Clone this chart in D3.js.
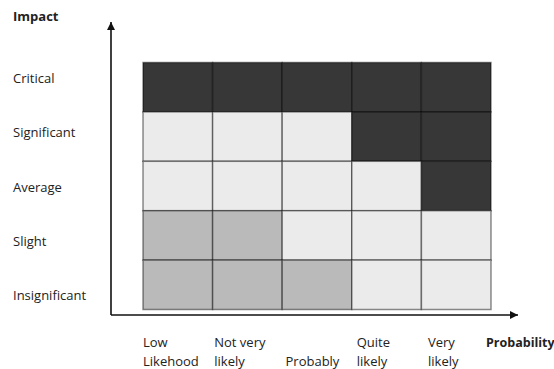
<!DOCTYPE html>
<html>
<head>
<meta charset="utf-8">
<script src="https://cdn.jsdelivr.net/npm/d3@7"></script>
<style>
  html, body { margin: 0; padding: 0; background: #fff; }
  svg { display: block; }
  text { font-family: "Open Sans", "Liberation Sans", sans-serif; fill: #222; }
</style>
</head>
<body>
<svg id="chart" width="554" height="369"></svg>
<script>
// Impact levels, top to bottom
const impacts = ["Critical", "Significant", "Average", "Slight", "Insignificant"];
// Probability levels, left to right (each label split in two lines)
const probabilities = ["Low Likehood", "Not very likely", "Probably", "Quite likely", "Very likely"];
const probabilityLines = [["Low", "Likehood"], ["Not very", "likely"], ["", "Probably"], ["Quite", "likely"], ["Very", "likely"]];
// Risk level per cell: rows follow impacts, columns follow probabilities
const riskCritical      = ["high", "high", "high", "high", "high"];
const riskSignificant   = ["low", "low", "low", "high", "high"];
const riskAverage       = ["low", "low", "low", "low", "high"];
const riskSlight        = ["medium", "medium", "low", "low", "low"];
const riskInsignificant = ["medium", "medium", "medium", "low", "low"];
const riskRows = [riskCritical, riskSignificant, riskAverage, riskSlight, riskInsignificant];
const riskLevels = ["low", "medium", "high"];

const svg = d3.select("#chart");

const x = d3.scaleBand().domain(probabilities).range([143, 491]).padding(0);
const y = d3.scaleBand().domain(impacts).range([62.5, 309.5]).padding(0);
const color = d3.scaleOrdinal().domain(riskLevels).range(["#ebebeb", "#bababa", "#373737"]);

const cells = [];
impacts.forEach((imp, i) => {
  probabilities.forEach((p, j) => {
    cells.push({ impact: imp, probability: p, level: riskRows[i][j] });
  });
});

svg.append("g")
  .selectAll("rect")
  .data(cells)
  .join("rect")
  .attr("x", d => x(d.probability))
  .attr("y", d => y(d.impact))
  .attr("width", x.bandwidth())
  .attr("height", y.bandwidth())
  .attr("fill", d => color(d.level))
  .attr("stroke", "rgba(0,0,0,0.45)")
  .attr("stroke-width", 1.5);

// Axes with arrow heads
const defs = svg.append("defs");
defs.append("marker")
  .attr("id", "arrow")
  .attr("viewBox", "0 0 10 10")
  .attr("refX", 10).attr("refY", 5)
  .attr("markerWidth", 10).attr("markerHeight", 8)
  .attr("markerUnits", "userSpaceOnUse")
  .attr("orient", "auto")
  .append("path")
  .attr("d", "M0,0 L10,5 L0,10 Z")
  .attr("fill", "#111");

const axisX0 = 111, axisY0 = 315;
svg.append("line")
  .attr("x1", axisX0).attr("y1", axisY0)
  .attr("x2", axisX0).attr("y2", 22)
  .attr("stroke", "#111").attr("stroke-width", 1.6)
  .attr("marker-end", "url(#arrow)");
svg.append("line")
  .attr("x1", axisX0).attr("y1", axisY0)
  .attr("x2", 518).attr("y2", axisY0)
  .attr("stroke", "#111").attr("stroke-width", 1.6)
  .attr("marker-end", "url(#arrow)");

// Axis titles
svg.append("text")
  .attr("x", 13).attr("y", 21)
  .attr("font-size", 13).attr("font-weight", "bold")
  .text("Impact");
svg.append("text")
  .attr("x", 486).attr("y", 347)
  .attr("font-size", 12.5).attr("font-weight", "bold")
  .text("Probability");

// Impact labels, spread along the left side
const yLabel = d3.scalePoint().domain(impacts).range([83, 300]);
svg.append("g")
  .selectAll("text")
  .data(impacts)
  .join("text")
  .attr("x", 13)
  .attr("y", d => yLabel(d))
  .attr("font-size", 13)
  .text(d => d);

// Probability labels below the horizontal axis
const xLabel = d3.scalePoint().domain(probabilities).range([143, 428]);
const pl = svg.append("g")
  .selectAll("text")
  .data(probabilities)
  .join("text")
  .attr("x", d => xLabel(d))
  .attr("font-size", 13);
pl.selectAll("tspan")
  .data((d, i) => probabilityLines[i].map((t, k) => ({ t, k })))
  .join("tspan")
  .attr("x", function () { return d3.select(this.parentNode).attr("x"); })
  .attr("y", d => d.k === 0 ? 347 : 365.5)
  .text(d => d.t);
</script>
</body>
</html>
